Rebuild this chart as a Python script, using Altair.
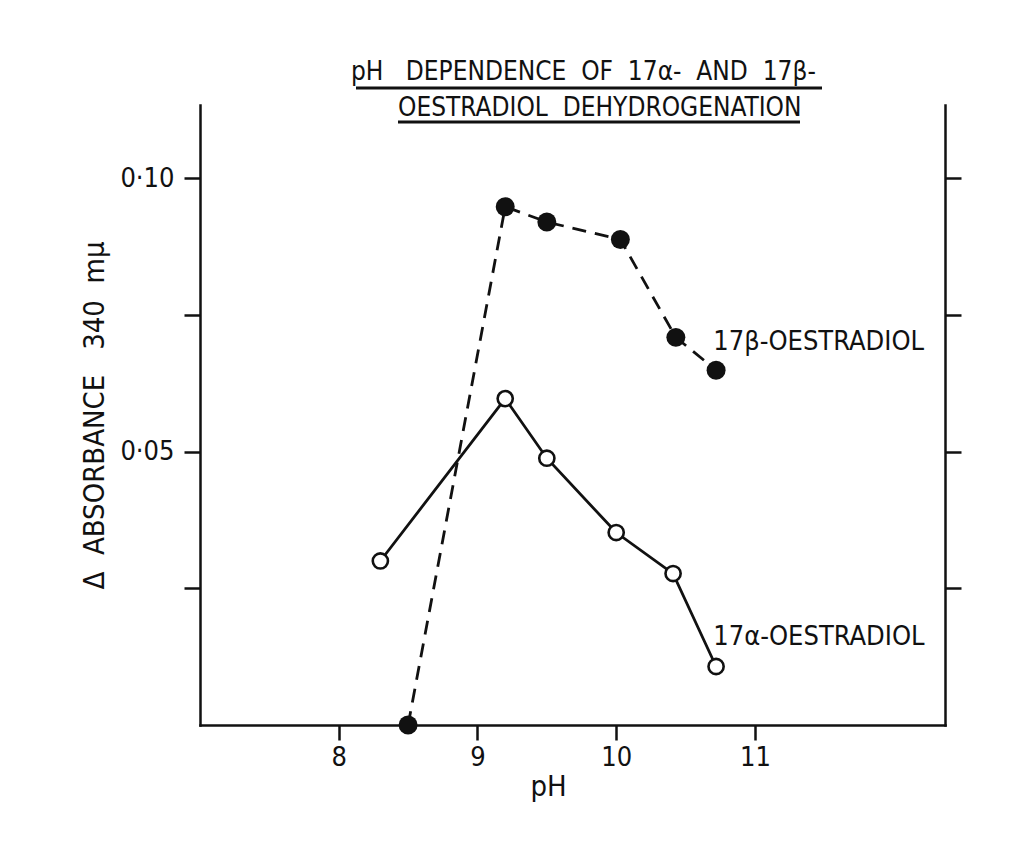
import altair as alt
import pandas as pd

# ---- data ----
ph_beta = [8.5, 9.2, 9.5, 10.03, 10.43, 10.72]
abs_beta = [0.0, 0.0948, 0.0920, 0.0888, 0.0709, 0.0649]
ph_alpha = [8.3, 9.2, 9.5, 10.0, 10.41, 10.72]
abs_alpha = [0.0300, 0.0597, 0.0488, 0.0352, 0.0277, 0.0107]

x_ticks = [8, 9, 10, 11]
y_ticks = [0.025, 0.05, 0.075, 0.1]

S = "\u00a0"
title_line1 = f"pH{S}{S}{S}DEPENDENCE{S}{S}OF{S}{S}17α-{S}{S}AND{S}{S}17β-"
title_line2 = f"OESTRADIOL{S}{S}DEHYDROGENATION"
label_beta = "17β-OESTRADIOL"
label_alpha = "17α-OESTRADIOL"
label_pos_ph = [10.70, 10.70]
label_pos_abs = [0.0686, 0.0147]

FONT = "DejaVu Sans Condensed"
INK = "#111111"

beta = pd.DataFrame({"ph": ph_beta, "a": abs_beta})
alpha = pd.DataFrame({"ph": ph_alpha, "a": abs_alpha})
labels = pd.DataFrame({"ph": label_pos_ph, "a": label_pos_abs, "t": [label_beta, label_alpha]})

xscale = alt.Scale(domain=[7.0, 12.37], nice=False, zero=False)
yscale = alt.Scale(domain=[0.0, 0.1134], nice=False, zero=False)

xaxis = alt.Axis(values=x_ticks, title="pH", grid=False, tickSize=15, tickWidth=2.5,
                 domainWidth=2.5, domainColor=INK, tickColor=INK, labelColor=INK,
                 labelFontSize=27, labelFont=FONT, labelPadding=4, titleFont=FONT,
                 titleFontSize=29, titleFontWeight="normal", titleColor=INK,
                 titlePadding=2, titleX=348, domainCap="square")
ylabel = "abs(datum.value-0.05)<1e-6 ? '0·05' : (abs(datum.value-0.1)<1e-6 ? '0·10' : '')"
yaxis_left = alt.Axis(values=y_ticks, labelExpr=ylabel,
                      title=f"Δ{S}{S}ABSORBANCE{S}{S}{S}340{S}{S}mμ",
                      grid=False, tickSize=16, tickWidth=2.5, domainWidth=2.5,
                      domainColor=INK, tickColor=INK, labelColor=INK, labelFontSize=27,
                      labelFont=FONT, labelPadding=10, titleFont=FONT, titleFontSize=29,
                      titleFontWeight="normal", titleColor=INK, titlePadding=10,
                      domainCap="square")
yaxis_right = alt.Axis(values=y_ticks, orient="right", labels=False, title=None,
                       grid=False, tickSize=16, tickWidth=2.5, domainWidth=2.5,
                       domainColor=INK, tickColor=INK, domainCap="square")

X = alt.X("ph:Q", scale=xscale, axis=xaxis)

alpha_line = alt.Chart(alpha).mark_line(color=INK, strokeWidth=2.8).encode(
    x=X, y=alt.Y("a:Q", scale=yscale, axis=yaxis_left),
)
beta_line = alt.Chart(beta).mark_line(color=INK, strokeWidth=2.8, strokeDash=[14, 9]).encode(
    x=X, y=alt.Y("a:Q", scale=yscale, axis=None),
)
alpha_pts = alt.Chart(alpha).mark_point(shape="circle", filled=True, fill="white",
                                        stroke=INK, strokeWidth=2.6, size=230, opacity=1).encode(
    x=X, y=alt.Y("a:Q", scale=yscale, axis=None),
)
beta_pts = alt.Chart(beta).mark_point(shape="circle", filled=True, color=INK, size=360, opacity=1).encode(
    x=X, y=alt.Y("a:Q", scale=yscale, axis=yaxis_right),
)
label_txt = alt.Chart(labels).mark_text(align="left", baseline="alphabetic", font=FONT,
                                         fontSize=27, color=INK).encode(
    x=X, y=alt.Y("a:Q", scale=yscale, axis=None), text="t:N",
)

title1 = alt.Chart(pd.DataFrame({"t": [title_line1]})).mark_text(
    align="left", baseline="alphabetic", font=FONT, fontSize=26, color=INK).encode(
    x=alt.value(151), y=alt.value(-25), text="t:N")
title2 = alt.Chart(pd.DataFrame({"t": [title_line2]})).mark_text(
    align="left", baseline="alphabetic", font=FONT, fontSize=26, color=INK).encode(
    x=alt.value(198), y=alt.value(11), text="t:N")
ul1 = alt.Chart(pd.DataFrame({"k": [0]})).mark_rule(color=INK, strokeWidth=2.8).encode(
    x=alt.value(156), x2=alt.value(622), y=alt.value(-17))
ul2 = alt.Chart(pd.DataFrame({"k": [0]})).mark_rule(color=INK, strokeWidth=2.8).encode(
    x=alt.value(198), x2=alt.value(600), y=alt.value(17))

chart = alt.layer(
    alpha_line, beta_line, alpha_pts, beta_pts, label_txt, title1, title2, ul1, ul2
).resolve_axis(y="independent").properties(
    width=745, height=620,
    padding={"left": 192, "top": 97, "right": 70, "bottom": 100},
    autosize=alt.AutoSizeParams(type="none"),
    background="white",
).configure_view(stroke=None)

chart.save("out.html", embed_options={"renderer": "svg", "actions": False})
